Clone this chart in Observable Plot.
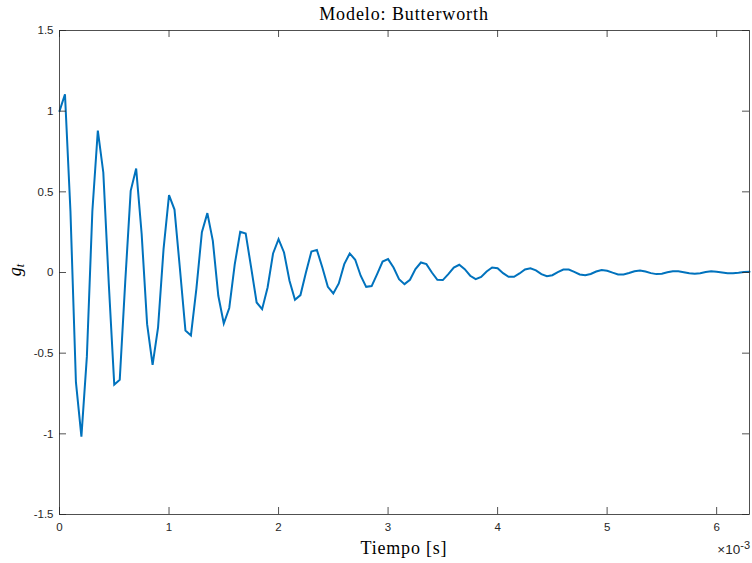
<!DOCTYPE html>
<html>
<head>
<meta charset="utf-8">
<script src="https://cdn.jsdelivr.net/npm/d3@7"></script>
<script src="https://cdn.jsdelivr.net/npm/@observablehq/plot@0.6"></script>
<style>
  html, body { margin: 0; padding: 0; background: #ffffff; }
  #chart svg { display: block; }
</style>
</head>
<body>
<div id="chart"></div>
<script>
// Time in units of 1e-3 s
const timeMs = [
  0,0.05,0.1,0.15,0.2,0.25,0.3,0.35,0.4,0.45,0.5,0.55,0.6,0.65,0.7,0.75,0.8,0.85,0.9,0.95,
  1,1.05,1.1,1.15,1.2,1.25,1.3,1.35,1.4,1.45,1.5,1.55,1.6,1.65,1.7,1.75,1.8,1.85,1.9,1.95,
  2,2.05,2.1,2.15,2.2,2.25,2.3,2.35,2.4,2.45,2.5,2.55,2.6,2.65,2.7,2.75,2.8,2.85,2.9,2.95,
  3,3.05,3.1,3.15,3.2,3.25,3.3,3.35,3.4,3.45,3.5,3.55,3.6,3.65,3.7,3.75,3.8,3.85,3.9,3.95,
  4,4.05,4.1,4.15,4.2,4.25,4.3,4.35,4.4,4.45,4.5,4.55,4.6,4.65,4.7,4.75,4.8,4.85,4.9,4.95,
  5,5.05,5.1,5.15,5.2,5.25,5.3,5.35,5.4,5.45,5.5,5.55,5.6,5.65,5.7,5.75,5.8,5.85,5.9,5.95,
  6,6.05,6.1,6.15,6.2,6.25,6.3
];
const gValues = [
  1.000,1.105,0.380,-0.680,-1.017,-0.520,0.380,0.880,0.620,-0.070,-0.695,-0.665,-0.060,0.506,0.644,0.240,-0.320,-0.573,-0.340,0.145,
  0.480,0.390,0.020,-0.360,-0.390,-0.100,0.250,0.368,0.196,-0.144,-0.316,-0.220,0.050,0.252,0.242,0.030,-0.186,-0.227,-0.093,0.118,
  0.207,0.124,-0.051,-0.169,-0.140,0.000,0.130,0.140,0.031,-0.089,-0.130,-0.068,0.052,0.118,0.079,-0.020,-0.089,-0.084,-0.010,0.068,
  0.083,0.031,-0.041,-0.072,-0.045,0.021,0.062,0.052,0.000,-0.045,-0.047,-0.010,0.031,0.048,0.021,-0.020,-0.041,-0.027,0.006,0.031,
  0.027,-0.004,-0.027,-0.027,-0.006,0.019,0.026,0.013,-0.010,-0.023,-0.017,0.002,0.018,0.018,0.004,-0.012,-0.017,-0.009,0.006,0.015,
  0.011,-0.001,-0.012,-0.012,-0.003,0.008,0.012,0.006,-0.004,-0.010,-0.008,0.001,0.008,0.008,0.002,-0.005,-0.008,-0.004,0.003,0.007,
  0.005,0.000,-0.005,-0.005,-0.002,0.003,0.005
];
const xTicks = [0,1,2,3,4,5,6];
const xTickLabels = ["0","1","2","3","4","5","6"];
const yTicks = [-1.5,-1,-0.5,0,0.5,1,1.5];
const yTickLabels = ["-1.5","-1","-0.5","0","0.5","1","1.5"];
const titleText = "Modelo: Butterworth";
const xLabelText = "Tiempo [s]";
const xExponentBase = "\u00d710";
const xExponent = "-3";

const data = timeMs.map((t, i) => ({t, g: gValues[i]}));

const W = 752, H = 563;
const mL = 59, mR = 3, mT = 30, mB = 49;
const frameW = W - mL - mR, frameH = H - mT - mB;
const tickLen = 7;
const axisColor = "#262626";

const chart = Plot.plot({
  width: W,
  height: H,
  marginLeft: mL,
  marginRight: mR,
  marginTop: mT,
  marginBottom: mB,
  style: {fontFamily: "'Liberation Sans', Arial, Helvetica, sans-serif", fontSize: "11.5px", color: axisColor, background: "#ffffff"},
  x: {domain: [0, 6.3], label: null},
  y: {domain: [-1.5, 1.5], label: null},
  marks: [
    Plot.line(data, {x: "t", y: "g", stroke: "#0072BD", strokeWidth: 2, strokeLinejoin: "miter", strokeMiterlimit: 4}),
    Plot.frame({stroke: axisColor, strokeWidth: 0.8}),
    Plot.tickX(xTicks, {x: d => d, stroke: axisColor, strokeWidth: 0.8, insetTop: frameH - tickLen}),
    Plot.tickX(xTicks, {x: d => d, stroke: axisColor, strokeWidth: 0.8, insetBottom: frameH - tickLen}),
    Plot.tickY(yTicks, {y: d => d, stroke: axisColor, strokeWidth: 0.8, insetRight: frameW - tickLen}),
    Plot.tickY(yTicks, {y: d => d, stroke: axisColor, strokeWidth: 0.8, insetLeft: frameW - tickLen}),
    Plot.axisX(xTicks, {anchor: "bottom", tickSize: 0, tickPadding: 8, label: null,
      tickFormat: d => xTickLabels[xTicks.indexOf(d)]}),
    Plot.axisY(yTicks, {anchor: "left", tickSize: 0, tickPadding: 6, label: null,
      tickFormat: d => yTickLabels[yTicks.indexOf(d)]})
  ]
});

document.getElementById("chart").appendChild(chart);

const svg = d3.select(chart);
const cx = mL + frameW / 2;

svg.append("text")
  .attr("x", cx).attr("y", 19.5)
  .attr("text-anchor", "middle")
  .attr("font-family", "'Liberation Serif', 'Times New Roman', serif")
  .attr("font-size", 18)
  .attr("letter-spacing", "0.9px")
  .attr("fill", "#000")
  .text(titleText);

svg.append("text")
  .attr("x", cx).attr("y", 554)
  .attr("text-anchor", "middle")
  .attr("font-family", "'Liberation Serif', 'Times New Roman', serif")
  .attr("font-size", 18)
  .attr("letter-spacing", "0.8px")
  .attr("fill", "#000")
  .text(xLabelText);

const yl = svg.append("text")
  .attr("transform", "translate(21,270) rotate(-90)")
  .attr("text-anchor", "middle")
  .attr("font-family", "'Liberation Serif', 'Times New Roman', serif")
  .attr("font-style", "italic")
  .attr("fill", "#000");
yl.append("tspan").attr("font-size", 18).text("g");
yl.append("tspan").attr("font-size", 12).attr("dy", 3).text("t");

const ex = svg.append("text")
  .attr("x", 750).attr("y", 554)
  .attr("text-anchor", "end")
  .attr("font-family", "'Liberation Sans', Arial, sans-serif")
  .attr("font-size", 13.5)
  .attr("fill", axisColor);
ex.append("tspan").text(xExponentBase);
ex.append("tspan").attr("font-size", 11).attr("dy", -5).text(xExponent);
</script>
</body>
</html>
